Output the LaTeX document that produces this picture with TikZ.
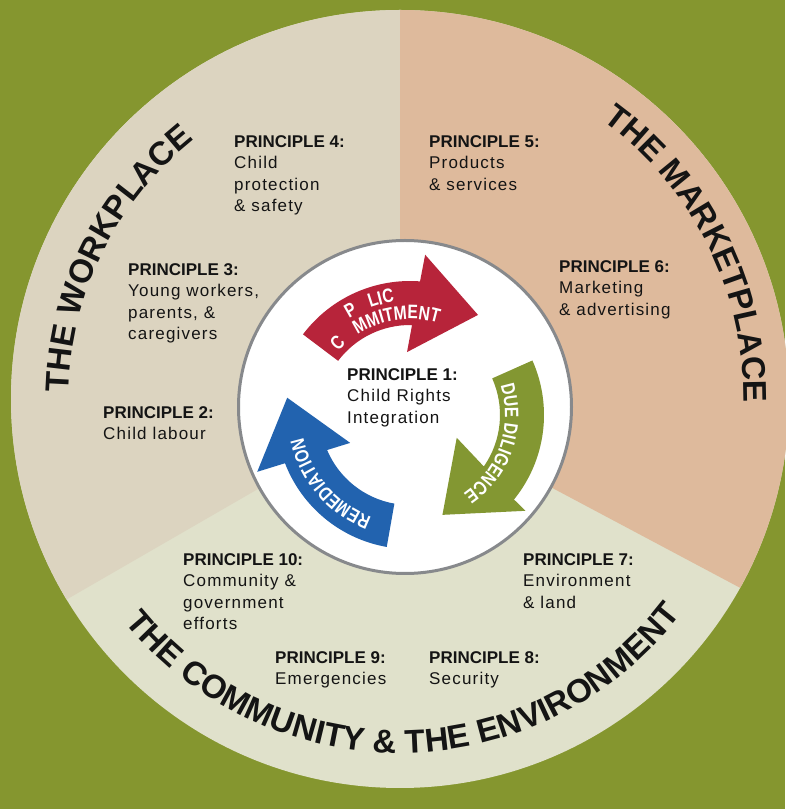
\documentclass[tikz,border=0pt]{standalone}
\usepackage{fontspec}
\setmainfont{Liberation Sans}
\newfontfamily\bodyfont[LetterSpace=7]{Liberation Sans}
\newfontfamily\condfont[FakeStretch=0.8]{Liberation Sans}
\usetikzlibrary{decorations.text}
\definecolor{bggreen}{RGB}{133,150,47}
\definecolor{workc}{RGB}{220,212,192}
\definecolor{marketc}{RGB}{222,186,156}
\definecolor{commc}{RGB}{224,225,203}
\definecolor{arred}{RGB}{183,36,58}
\definecolor{argreen}{RGB}{131,151,50}
\definecolor{arblue}{RGB}{34,99,175}
\definecolor{ringgray}{RGB}{135,137,140}
\definecolor{ink}{RGB}{20,20,20}
\begin{document}
\begin{tikzpicture}[x=1pt,y=1pt,
  ptext/.style={anchor=north west, inner sep=0pt, align=left, text=ink, font=\fontsize{17}{21.5}\selectfont},
  sectitle/.style={decorate, decoration={text along path, text align=center, text color=ink,
      text={|\bfseries\fontsize{33}{33}\selectfont|#1}}},
  arrowtext/.style={decorate, decoration={text along path, text align=center, text color=white,
      text={|\condfont\bfseries\fontsize{19.5}{19.5}\selectfont|#1}}}
]
\useasboundingbox (0,0) rectangle (785,809);
\fill[bggreen] (0,0) rectangle (785,809);
\coordinate (O) at (400,410);
\coordinate (Q) at (400,402);
\coordinate (C) at (410,394);
% sectors
\begin{scope}
  \clip (O) circle[radius=389];
  \fill[commc] (-20,-20) rectangle (820,830);
  \fill[workc] (Q) -- (400,830) -- (-20,830) -- (-20,159.5) -- cycle;
  \fill[marketc] (Q) -- (400,830) -- (820,830) -- (820,178.7) -- cycle;
\end{scope}
% inner circle
\node[circle, fill=white, draw=ringgray, line width=3pt, minimum size=333pt, inner sep=0pt] (inner) at (405,402) {};
% arrows
\fill[arred] ([shift={(C)}]143:134) arc[start angle=143, end angle=85.7, radius=134]
  -- ([shift={(C)}]84.6:161) -- ([shift={(C)}]55.8:121) -- ([shift={(C)}]92.7:63)
  -- ([shift={(C)}]88.7:90) arc[start angle=88.7, end angle=143, radius=90] -- cycle;
\fill[argreen] ([shift={(C)}]24:134) arc[start angle=24, end angle=-39.1, radius=134]
  -- ([shift={(C)}]-39.7:150) -- ([shift={(C)}]-72:105) -- ([shift={(C)}]-26:52)
  -- ([shift={(C)}]-34.9:90) arc[start angle=-34.9, end angle=24, radius=90] -- cycle;
\fill[arblue] ([shift={(C)}]260:134) arc[start angle=260, end angle=201.1, radius=134]
  -- ([shift={(C)}]200.4:163) -- ([shift={(C)}]172:124) -- ([shift={(C)}]205:66)
  -- ([shift={(C)}]202.9:90) arc[start angle=202.9, end angle=260, radius=90] -- cycle;
% arrow texts
\path[arrowtext={P}] ([shift={(C)}]129.7:114) arc[start angle=129.7, end angle=109.7, radius=114];
\path[arrowtext={LIC}] ([shift={(C)}]114:114) arc[start angle=114, end angle=94, radius=114];
\path[arrowtext={C}] ([shift={(C)}]145:96) arc[start angle=145, end angle=125, radius=96];
\path[arrowtext={MMITMENT}] ([shift={(C)}]140:96) arc[start angle=140, end angle=56, radius=96];
\path[arrowtext={DUE DILIGENCE}] ([shift={(C)}]45:95) arc[start angle=45, end angle=-83, radius=95];
\path[arrowtext={REMEDIATION}] ([shift={(C)}]260.7:109) arc[start angle=260.7, end angle=180.7, radius=109];
% section titles
\path[sectitle={THE WORKPLACE}] ([shift={(O)}]205:331) arc[start angle=205, end angle=102.2, radius=331];
\path[sectitle={THE MARKETPLACE}] ([shift={(O)}]86.7:344) arc[start angle=86.7, end angle=-33.3, radius=344];
\path[sectitle={THE COMMUNITY {\&} THE ENVIRONMENT}] ([shift={(O)}]195.8:354) arc[start angle=195.8, end angle=345.8, radius=354];
% principle texts
\node[ptext] (p4) at (234,674) {\textbf{PRINCIPLE 4:}\\{\bodyfont Child}\\{\bodyfont protection}\\{\bodyfont \& safety}};
\node[ptext] (p5) at (429,674) {\textbf{PRINCIPLE 5:}\\{\bodyfont Products}\\{\bodyfont \& services}};
\node[ptext] (p6) at (559,549) {\textbf{PRINCIPLE 6:}\\{\bodyfont Marketing}\\{\bodyfont \& advertising}};
\node[ptext] (p3) at (128,546) {\textbf{PRINCIPLE 3:}\\{\bodyfont Young workers,}\\{\bodyfont parents, \&}\\{\bodyfont caregivers}};
\node[ptext] (p1) at (347,441) {\textbf{PRINCIPLE 1:}\\{\bodyfont Child Rights}\\{\bodyfont Integration}};
\node[ptext] (p2) at (103,403) {\textbf{PRINCIPLE 2:}\\{\bodyfont Child labour}};
\node[ptext] (p10) at (183,256) {\textbf{PRINCIPLE 10:}\\{\bodyfont Community \&}\\{\bodyfont government}\\{\bodyfont efforts}};
\node[ptext] (p7) at (523,256) {\textbf{PRINCIPLE 7:}\\{\bodyfont Environment}\\{\bodyfont \& land}};
\node[ptext] (p9) at (275,158) {\textbf{PRINCIPLE 9:}\\{\bodyfont Emergencies}};
\node[ptext] (p8) at (429,158) {\textbf{PRINCIPLE 8:}\\{\bodyfont Security}};
\end{tikzpicture}
\end{document}
